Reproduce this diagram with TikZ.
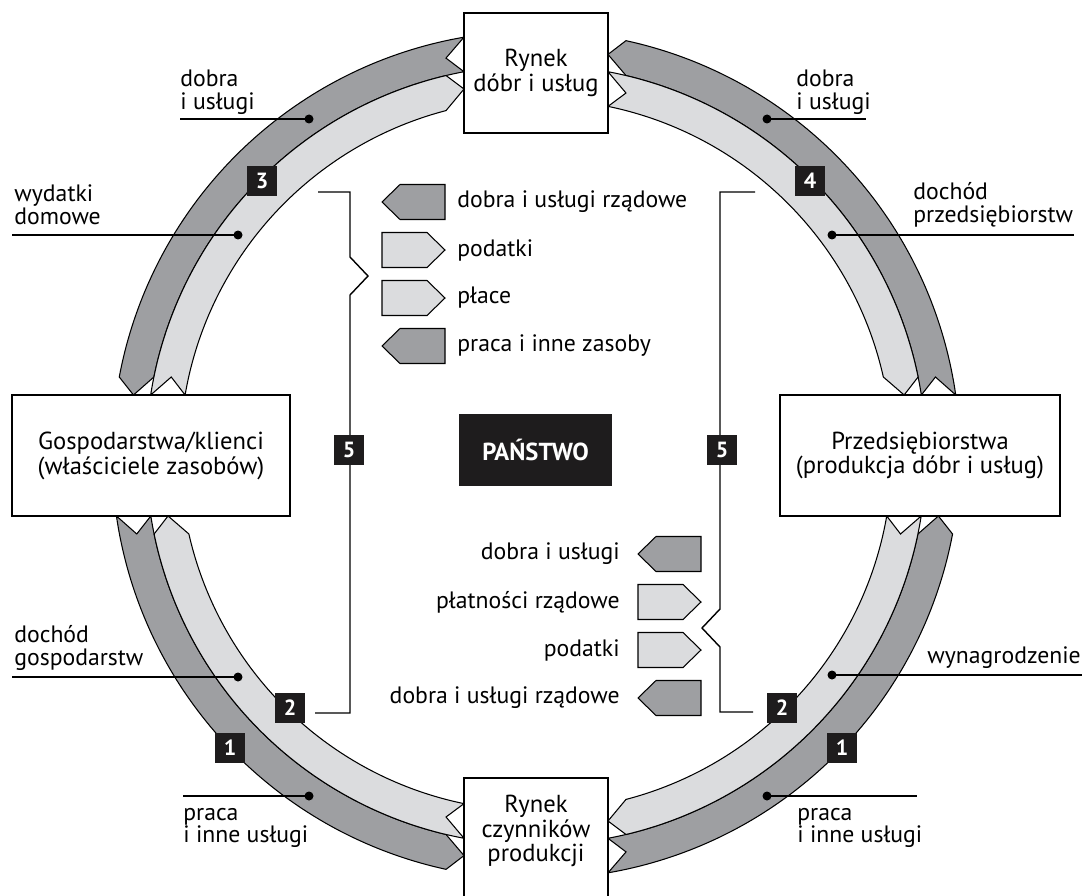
\documentclass[tikz,border=0pt]{standalone}
\usepackage{fontspec}
\setmainfont{PT Sans}
\definecolor{bdark}{RGB}{158,159,162}
\definecolor{blight}{RGB}{219,220,222}
\definecolor{nblack}{RGB}{30,28,29}
% dark band: radii 390/407/424 ; light band: 356/373/390
\newcommand\darkband[6]{%
  \filldraw[band,fill=bdark]
  plot[domain=#1:#4,samples=80,variable=\t] ({536+424*cos(\t)},{455+424*sin(\t)})
  -- ({536+407*cos(#5)},{455+407*sin(#5)})
  -- plot[domain=#6:#3,samples=80,variable=\t] ({536+390*cos(\t)},{455+390*sin(\t)})
  -- ({536+407*cos(#2)},{455+407*sin(#2)}) -- cycle;}
\newcommand\lightband[6]{%
  \filldraw[band,fill=blight]
  plot[domain=#1:#4,samples=80,variable=\t] ({536+390*cos(\t)},{455+390*sin(\t)})
  -- ({536+373*cos(#5)},{455+373*sin(#5)})
  -- plot[domain=#6:#3,samples=80,variable=\t] ({536+356*cos(\t)},{455+356*sin(\t)})
  -- ({536+373*cos(#2)},{455+373*sin(#2)}) -- cycle;}
\newcommand\legLeft[2]{\filldraw[band,fill=bdark] (#1,#2) -- ++(18,-17.5) -- ++(45,0) -- ++(0,35) -- ++(-45,0) -- cycle;}
\newcommand\legRight[2]{\filldraw[band,fill=blight] ({#1},{#2-17.5}) -- ++(45,0) -- ++(18,17.5) -- ++(-18,17.5) -- ++(-45,0) -- cycle;}
\begin{document}
\begin{tikzpicture}[x=0.02cm,y=-0.02cm,
  band/.style={draw=black,line width=0.6pt,line join=miter},
  mbox/.style={draw=black,fill=white,line width=0.8pt,align=center,inner sep=0pt,
    font=\fontsize{14}{14.2}\selectfont},
  lbl/.style={align=left,inner sep=0pt,font=\fontsize{13.5}{13}\selectfont},
  numbox/.style={fill=nblack,text=white,minimum width=0.6cm,minimum height=0.6cm,
    inner sep=0pt,font=\fontsize{12.5}{12.5}\selectfont\bfseries},
  dot/.style={circle,fill=black,minimum size=0.18cm,inner sep=0pt},
  lead/.style={line width=0.7pt},
  brk/.style={line width=0.8pt,line join=miter}]
\useasboundingbox (0,0) rectangle (1084,895);
% ---- bands ----
% top-left
\darkband{260.22}{257.22}{259.36}{190.60}{188.48}{191.54}
\lightband{188.85}{192.07}{189.70}{256.66}{258.87}{255.36}
% top-right
\darkband{-8.14}{-11.05}{-8.85}{-77.75}{-79.81}{-76.66}
\lightband{-79.36}{-76.04}{-78.33}{-11.54}{-9.26}{-12.66}
% bottom-left
\darkband{171.73}{168.81}{171.00}{102.25}{100.19}{103.34}
\lightband{100.64}{103.96}{101.67}{168.31}{170.59}{167.18}
% bottom-right
\darkband{80.22}{77.22}{79.36}{10.74}{8.62}{11.69}
\lightband{9.00}{12.23}{9.87}{76.66}{78.87}{75.36}
% ---- boxes ----
\node[mbox,minimum width=2.88cm,minimum height=2.4cm] (gm) at (536,73) {Rynek\\dóbr i usług};
\node[mbox,minimum width=5.56cm,minimum height=2.42cm] (hh) at (151,455.5) {Gospodarstwa/klienci\\(właściciele zasobów)};
\node[mbox,minimum width=5.6cm,minimum height=2.42cm] (fi) at (920,455.5) {Przedsiębiorstwa\\(produkcja dóbr i usług)};
\filldraw[fill=white,line width=0.8pt] (464,900) -- (464,778) -- (608,778) -- (608,900);
\node[align=center,inner sep=0pt,font=\fontsize{14}{14}\selectfont] (fm) at (536,831) {Rynek\\czynników\\produkcji};
\node[fill=nblack,text=white,minimum width=3.06cm,minimum height=1.44cm,
  font=\fontsize{14}{14}\selectfont\bfseries] (gov) at (535.5,450) {PAŃSTWO};
% ---- brackets ----
\coordinate (b1) at (318,192); \coordinate (b2) at (315,713);
\draw[brk] (b1) -- (350,192) -- (350,257) -- (368,276) -- (350,295) -- (350,713) -- (b2);
\coordinate (c1) at (755,192); \coordinate (c2) at (753,712);
\draw[brk] (c1) -- (720,192) -- (720,609) -- (702,628) -- (720,647) -- (720,712) -- (c2);
% ---- number boxes ----
\node[numbox] (n3) at (262,181) {3};
\node[numbox] (n4) at (810,181) {4};
\node[numbox] (n2l) at (290,708) {2};
\node[numbox] (n1l) at (230,748) {1};
\node[numbox] (n2r) at (782,708) {2};
\node[numbox] (n1r) at (842,748) {1};
\node[numbox] (n5l) at (349,450) {5};
\node[numbox] (n5r) at (722,450) {5};
% ---- legends ----
\legLeft{382}{202}
\legRight{382}{250}
\legRight{382}{298}
\legLeft{382}{346}
\node[lbl,anchor=west] (lg1) at (457,202) {dobra i usługi rządowe};
\node[lbl,anchor=west] (lg2) at (457,250) {podatki};
\node[lbl,anchor=west] (lg3) at (457,298) {płace};
\node[lbl,anchor=west] (lg4) at (457,346) {praca i inne zasoby};
\legLeft{638}{554}
\legRight{638}{602}
\legRight{638}{650}
\legLeft{638}{698}
\node[lbl,anchor=east] (lh1) at (620,554) {dobra i usługi};
\node[lbl,anchor=east] (lh2) at (620,602) {płatności rządowe};
\node[lbl,anchor=east] (lh3) at (620,650) {podatki};
\node[lbl,anchor=east] (lh4) at (620,698) {dobra i usługi rządowe};
% ---- labels with leaders ----
\node[dot] (d1) at (309,119) {}; \coordinate (e1) at (180,119); \draw[lead] (e1) -- (d1.center);
\node[lbl,anchor=west] (t1) at (180,92) {dobra\\i usługi};
\node[dot] (d2) at (238,235) {}; \coordinate (e2) at (12,235); \draw[lead] (e2) -- (d2.center);
\node[lbl,anchor=west] (t2) at (14,205) {wydatki\\domowe};
\node[dot] (d3) at (238,677) {}; \coordinate (e3) at (12,677); \draw[lead] (e3) -- (d3.center);
\node[lbl,anchor=west] (t3) at (14,648) {dochód\\gospodarstw};
\node[dot] (d4) at (309,796) {}; \coordinate (e4) at (183,796); \draw[lead] (e4) -- (d4.center);
\node[lbl,anchor=west] (t4) at (183,828) {praca\\i inne usługi};
\node[dot] (d5) at (767,119) {}; \coordinate (e5) at (866,119); \draw[lead] (d5.center) -- (e5);
\node[lbl,anchor=west] (t5) at (796,92) {dobra\\i usługi};
\node[dot] (d6) at (832,235) {}; \coordinate (e6) at (1074,235); \draw[lead] (d6.center) -- (e6);
\node[lbl,anchor=west] (t6) at (913,205) {dochód\\przedsiębiorstw};
\node[dot] (d7) at (832,675) {}; \coordinate (e7) at (1082,675); \draw[lead] (d7.center) -- (e7);
\node[lbl,anchor=west] (t7) at (927,658) {wynagrodzenie};
\node[dot] (d8) at (767,796) {}; \coordinate (e8) at (917,796); \draw[lead] (d8.center) -- (e8);
\node[lbl,anchor=west] (t8) at (797,828) {praca\\i inne usługi};
\end{tikzpicture}
\end{document}
